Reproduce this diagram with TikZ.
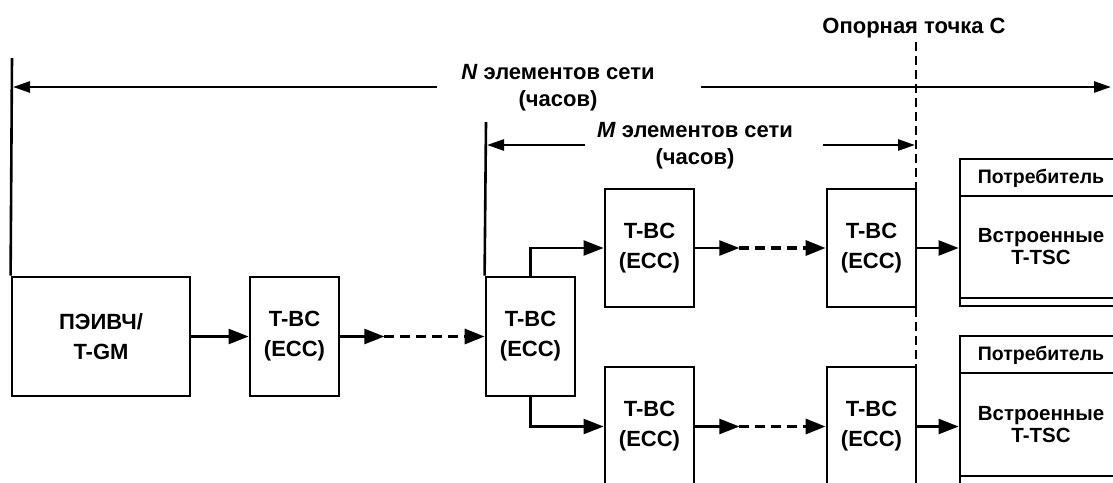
\documentclass[tikz,border=0pt]{standalone}
\usepackage{fontspec}
\setmainfont{Liberation Sans}
\usetikzlibrary{arrows.meta,calc}
\begin{document}
\begin{tikzpicture}[x=1pt,y=-1pt,
  box/.style={draw, line width=2.8pt, inner sep=0pt, align=center, font=\bfseries\fontsize{22}{30}\selectfont},
  cons/.style={draw, line width=2.8pt, inner sep=0pt},
  conn/.style={line width=2.3pt, -{Triangle[length=20pt,width=15pt]}},
  dconn/.style={line width=3.2pt, dash pattern=on 10pt off 6pt, -{Triangle[length=20pt,width=15pt]}},
  dim/.style={line width=2.6pt, -{Triangle[length=17pt,width=11pt]}},
  vline/.style={line width=2.6pt},
  refline/.style={line width=2.4pt, dash pattern=on 9pt off 5pt},
  lab/.style={align=center, font=\bfseries\fontsize{22}{27}\selectfont, inner sep=0pt},
  ctext/.style={align=center, font=\bfseries\fontsize{20.5}{22}\selectfont, inner sep=0pt},
  chead/.style={font=\bfseries\fontsize{19.5}{22}\selectfont, inner sep=0pt},
]
\path[use as bounding box] (0,0) rectangle (1113,482);
\clip (0,0) rectangle (1113,482);

% main boxes
\node[box, minimum width=178pt, minimum height=119pt] (src) at (101,336.5) {ПЭИВЧ/\\T-GM};
\node[box, minimum width=89pt, minimum height=119pt] (b1) at (294.5,336.5) {T-BC\\(ECC)};
\node[box, minimum width=89pt, minimum height=119pt] (mid) at (530.5,336.5) {T-BC\\(ECC)};
\node[box, minimum width=89pt, minimum height=118pt] (u1) at (649.5,248) {T-BC\\(ECC)};
\node[box, minimum width=89pt, minimum height=118pt] (u2) at (871.5,248) {T-BC\\(ECC)};
\node[box, minimum width=89pt, minimum height=119pt] (l1) at (649.5,426.5) {T-BC\\(ECC)};
\node[box, minimum width=89pt, minimum height=119pt] (l2) at (871.5,426.5) {T-BC\\(ECC)};

% consumer boxes
\node[cons, minimum width=163pt, minimum height=147pt] (cu) at (1041.5,232.5) {};
\draw[line width=2.8pt] (960,196) -- (1123,196);
\draw[line width=2.8pt] (960,298) -- (1123,298);
\node[chead] (cuh) at (1041,178) {Потребитель};
\node[ctext] (cut) at (1041,247) {Встроенные\\T-TSC};

\node[cons, minimum width=163pt, minimum height=164pt] (cl) at (1041.5,418) {};
\draw[line width=2.8pt] (960,373) -- (1123,373);
\draw[line width=2.8pt] (960,476) -- (1123,476);
\node[chead] (clh) at (1041,355) {Потребитель};
\node[ctext] (clt) at (1041,424.5) {Встроенные\\T-TSC};

% reference point C
\node[lab] (refC) at (914,28) {Опорная точка C};
\coordinate (refTop) at (916,42);
\coordinate (refBot) at (916,490);
\draw[refline] (refTop) -- (refBot);

% connectors
\draw[conn] (src.east) -- (b1.west);
\coordinate (m1) at ($(b1.east)+(44,0)$);
\draw[conn] (b1.east) -- (m1);
\draw[dconn] (m1) -- (mid.west);

\draw[conn] (mid.north) |- (u1.west);
\draw[conn] (mid.south) |- (l1.west);

\coordinate (m2) at ($(u1.east)+(44,0)$);
\draw[conn] (u1.east) -- (m2);
\draw[dconn] (m2) -- (u2.west);
\coordinate (m3) at ($(l1.east)+(44,0)$);
\draw[conn] (l1.east) -- (m3);
\draw[dconn] (m3) -- (l2.west);

\draw[conn] (u2.east) -- (u2.east -| cu.west);
\draw[conn] (l2.east) -- (l2.east -| cl.west);

% N span
\coordinate (Ntop) at (12,58);
\draw[vline] (Ntop) -- (src.north west);
\node[lab] (Nlab) at (558,88) {\textit{N} элементов сети\\(часов)};
\coordinate (NLi) at (437,87);
\coordinate (NL) at (13,87);
\coordinate (NRi) at (701,87);
\coordinate (NR) at (1111,87);
\draw[dim] (NLi) -- (NL);
\draw[dim] (NRi) -- (NR);

% M span
\coordinate (Mtop) at (486,122);
\draw[vline] (Mtop) -- (mid.north west);
\node[lab] (Mlab) at (695,146) {\textit{M} элементов сети\\(часов)};
\coordinate (MLi) at (585,145);
\coordinate (ML) at (487,145);
\coordinate (MRi) at (823,145);
\coordinate (MR) at (915,145);
\draw[dim] (MLi) -- (ML);
\draw[dim] (MRi) -- (MR);
\end{tikzpicture}
\end{document}
